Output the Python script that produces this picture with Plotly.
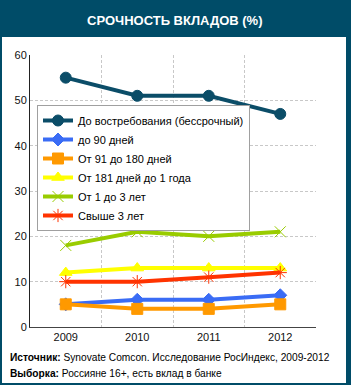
import plotly.graph_objects as go

years = ["2009", "2010", "2011", "2012"]
names = [
    "До востребования (бессрочный)",
    "до 90 дней",
    "От 91 до 180 дней",
    "От 181 дней до 1 года",
    "От 1 до 3 лет",
    "Свыше 3 лет",
]
demand = [55, 51, 51, 47]
upto90 = [5, 6, 6, 7]
d91_180 = [5, 4, 4, 5]
d181_1y = [12, 13, 13, 13]
y1_3 = [18, 21, 20, 21]
over3 = [10, 10, 11, 12]
y_ticks = [0, 10, 20, 30, 40, 50, 60]

series = [demand, upto90, d91_180, d181_1y, y1_3, over3]
colors = ["#0b4d68", "#3a6cf5", "#ff9900", "#ffff00", "#99cc00", "#ff3300"]
symbols = ["circle", "diamond", "square", "triangle-up", "x-thin-open", "asterisk-open"]
msizes = [11, 10, 11, 11, 11, 11]

W, H = 351, 385
L, R, T, B = 30, 35, 55, 58
PW, PH = W - L - R, H - T - B


def px(x):
    return (x - L) / PW


def py(y):
    return (H - B - y) / PH


fig = go.Figure()
for name, vals, c, s, ms in zip(names, series, colors, symbols, msizes):
    fig.add_trace(go.Scatter(
        x=years, y=vals, name=name, mode="lines+markers",
        line=dict(color=c, width=4),
        marker=dict(symbol=s, size=ms, color=c, line=dict(color=c, width=1)),
    ))

bar = "#004c68"
fig.update_layout(
    width=W, height=H,
    margin=dict(l=L, r=R, t=T, b=B, pad=0),
    paper_bgcolor=bar,
    plot_bgcolor="white",
    font=dict(family="Arial, Liberation Sans, sans-serif", size=11, color="#111"),
    showlegend=True,
    legend=dict(
        x=px(37), y=py(105), xanchor="left", yanchor="top",
        bgcolor="white", bordercolor="#a0a0a0", borderwidth=1,
        font=dict(size=11, color="#000"),
        itemwidth=30,
    ),
    xaxis=dict(
        type="category", range=[-0.5, 3.5], tickson="boundaries",
        showgrid=True, gridcolor="#c8c8c8", griddash="3px,2px", gridwidth=1,
        showline=True, linecolor="#444", linewidth=1,
        ticks="", ticklen=0, tickfont=dict(size=11, color="#111"),
        fixedrange=True,
    ),
    yaxis=dict(
        range=[0, 60], tickvals=y_ticks,
        showgrid=True, gridcolor="#c8c8c8", griddash="3px,2px", gridwidth=1,
        showline=True, linecolor="#222", linewidth=1,
        ticks="", tickfont=dict(size=11, color="#111"), zeroline=False,
        fixedrange=True,
    ),
    shapes=[
        dict(type="rect", xref="paper", yref="paper",
             x0=px(2), x1=px(346), y0=py(383), y1=py(37),
             fillcolor="white", line=dict(width=0), layer="below"),
        dict(type="rect", xref="paper", yref="paper",
             x0=px(40), x1=px(249), y0=py(225), y1=py(108),
             fillcolor="#b4b4b4", line=dict(width=0), layer="above"),
    ],
    annotations=[
        dict(text="<b>СРОЧНОСТЬ ВКЛАДОВ (%)</b>", xref="paper", yref="paper",
             x=px(175), y=py(20), xanchor="center", yanchor="middle",
             showarrow=False, font=dict(size=13, color="white")),
        dict(text="<b>Источник:</b> Synovate Comcon. Исследование РосИндекс, 2009-2012",
             xref="paper", yref="paper", x=px(8), y=py(357),
             xanchor="left", yanchor="middle", showarrow=False,
             font=dict(size=10.2, color="#000")),
        dict(text="<b>Выборка:</b> Россияне 16+, есть вклад в банке",
             xref="paper", yref="paper", x=px(8), y=py(373),
             xanchor="left", yanchor="middle", showarrow=False,
             font=dict(size=10.2, color="#000")),
    ],
)

fig.write_html("out.html", config={"displayModeBar": False})
